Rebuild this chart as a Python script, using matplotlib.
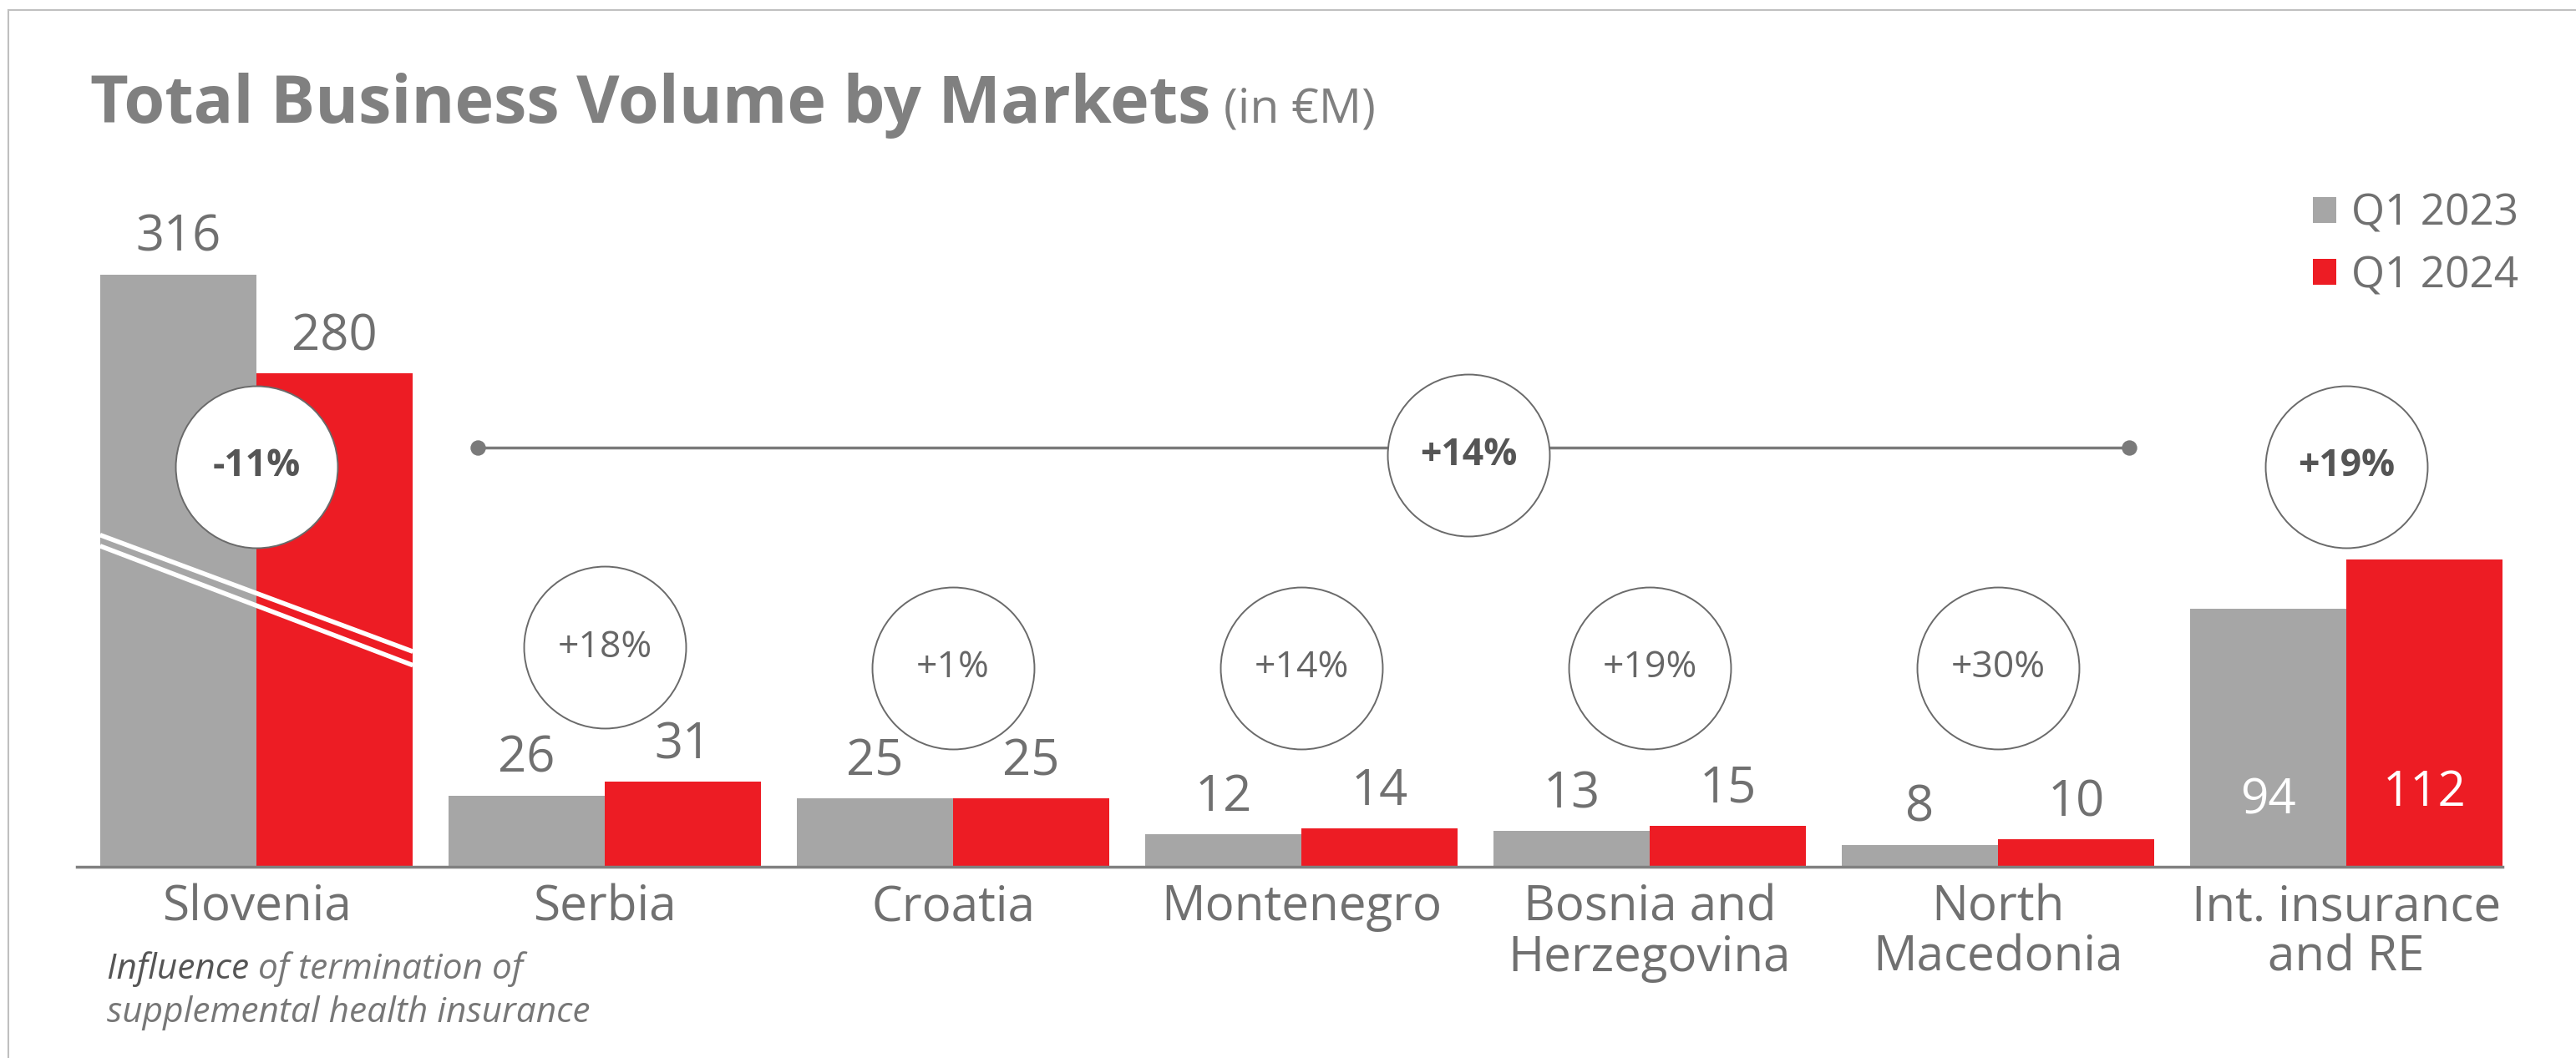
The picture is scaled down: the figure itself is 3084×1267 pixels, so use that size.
import matplotlib
matplotlib.use("Agg")
import matplotlib.pyplot as plt
from matplotlib.lines import Line2D

plt.rcParams['font.family'] = ['Open Sans', 'DejaVu Sans']

# Data
categories = ['Slovenia', 'Serbia', 'Croatia', 'Montenegro',
              'Bosnia and\nHerzegovina', 'North\nMacedonia', 'Int. insurance\nand RE']
q1_2023 = [316, 26, 25, 12, 13, 8, 94]
q1_2024 = [280, 31, 25, 14, 15, 10, 112]
changes = ['-11%', '+18%', '+1%', '+14%', '+19%', '+30%', '+19%']
total_change = '+14%'

# Slovenia bar is drawn with a broken axis
break_cut = 100

GRAY = '#a6a6a6'
RED = '#ed1c24'
TXT = '#707070'

fig = plt.figure(figsize=(30.84, 12.67), dpi=100)

# outer frame (top and left only)
fig.add_artist(Line2D([0.0033, 1.0], [0.9905, 0.9905], color='#c0c0c0', lw=1.5))
fig.add_artist(Line2D([0.0033, 0.0033], [0.0, 0.9905], color='#c0c0c0', lw=1.5))

ax = fig.add_axes([0.0298, 0.1807, 0.9417, 0.648])
ax.set_xlim(-0.516, 6.449)
ax.set_ylim(0, 250)
for s in ['top', 'right', 'left']:
    ax.spines[s].set_visible(False)
ax.spines['bottom'].set_color('#808080')
ax.spines['bottom'].set_linewidth(2.5)
ax.set_yticks([])
ax.set_xticks([])

w = 0.449
x = list(range(len(categories)))
h23 = [v - break_cut if i == 0 else v for i, v in enumerate(q1_2023)]
h24 = [v - break_cut if i == 0 else v for i, v in enumerate(q1_2024)]

b1 = ax.bar([i - w / 2 for i in x], h23, w, color=GRAY, label='Q1 2023')
b2 = ax.bar([i + w / 2 for i in x], h24, w, color=RED, label='Q1 2024')

# value labels
last = len(categories) - 1
for i in x:
    if i == last:
        ax.text(i - w / 2, 24, str(q1_2023[i]), ha='center', va='center',
                fontsize=42, color='white')
        ax.text(i + w / 2, 27, str(q1_2024[i]), ha='center', va='center',
                fontsize=42, color='white')
    else:
        ax.annotate(str(q1_2023[i]), (i - w / 2, h23[i]), xytext=(0, 10),
                    textcoords='offset points', ha='center', va='bottom',
                    fontsize=43, color=TXT)
        ax.annotate(str(q1_2024[i]), (i + w / 2, h24[i]), xytext=(0, 10),
                    textcoords='offset points', ha='center', va='bottom',
                    fontsize=43, color=TXT)

# break marks on Slovenia
x0 = -w
x1 = w
ax.plot([x0, x1], [121, 78.5], color='white', lw=4, solid_capstyle='butt', zorder=3)
ax.plot([x0, x1], [117, 73.5], color='white', lw=4, solid_capstyle='butt', zorder=3)

# category labels
for i, c in enumerate(categories):
    ax.text(i, -6, c, ha='center', va='top', fontsize=42, color=TXT,
            linespacing=1.05)

# growth circles
circ_y = [146, 80, 72.5, 72.5, 72.5, 72.5, 146]
for i, lab in enumerate(changes):
    bold = i in (0, last)
    ax.scatter([i], [circ_y[i]], s=19500, facecolor='white', edgecolor='#6a6a6a',
               linewidth=1.4, zorder=4)
    ax.text(i, circ_y[i], lab, ha='center', va='center', fontsize=32,
            fontweight='bold' if bold else 'normal',
            color='#555555' if bold else '#666666', zorder=5)

# total line for the region
ax.plot([0.636, 5.376], [152.8, 152.8], color='#7a7a7a', lw=2.5, zorder=2)
ax.scatter([0.636, 5.376], [152.8, 152.8], s=150, color='#7a7a7a', zorder=2)
ax.scatter([3.48], [150], s=19500, facecolor='white', edgecolor='#6a6a6a',
           linewidth=1.4, zorder=4)
ax.text(3.48, 150, total_change, ha='center', va='center', fontsize=32,
        fontweight='bold', color='#555555', zorder=5)

# title, subtitle placed right after it
title = fig.text(0.035, 0.884, 'Total Business Volume by Markets', fontsize=57,
                 fontweight='bold', color='#808080', ha='left', va='baseline')
fig.canvas.draw()
r = fig.canvas.get_renderer()
bb = title.get_window_extent(r).transformed(fig.transFigure.inverted())
fig.text(bb.x1 + 0.005, 0.884, '(in €M)', fontsize=41, color='#808080',
         ha='left', va='baseline')

# footnote
t1 = fig.text(0.0415, 0.075, 'Influence ', fontsize=30.5, style='italic',
              color='#555555', ha='left', va='baseline')
bb = t1.get_window_extent(r).transformed(fig.transFigure.inverted())
fig.text(bb.x1, 0.075, 'of termination of', fontsize=30.5,
         style='italic', color='#777777', ha='left', va='baseline')
fig.text(0.0415, 0.034, 'supplemental health insurance', fontsize=30.5,
         style='italic', color='#777777', ha='left', va='baseline')

leg = ax.legend(handles=[b1, b2], loc='upper right', bbox_to_anchor=(0.9843, 0.834),
                bbox_transform=fig.transFigure, frameon=False, fontsize=37,
                handlelength=0.55, handleheight=0.55, handletextpad=0.35,
                labelspacing=0.45, borderaxespad=0)
for t in leg.get_texts():
    t.set_color(TXT)

fig.savefig('out.png', dpi=100, facecolor='white')
